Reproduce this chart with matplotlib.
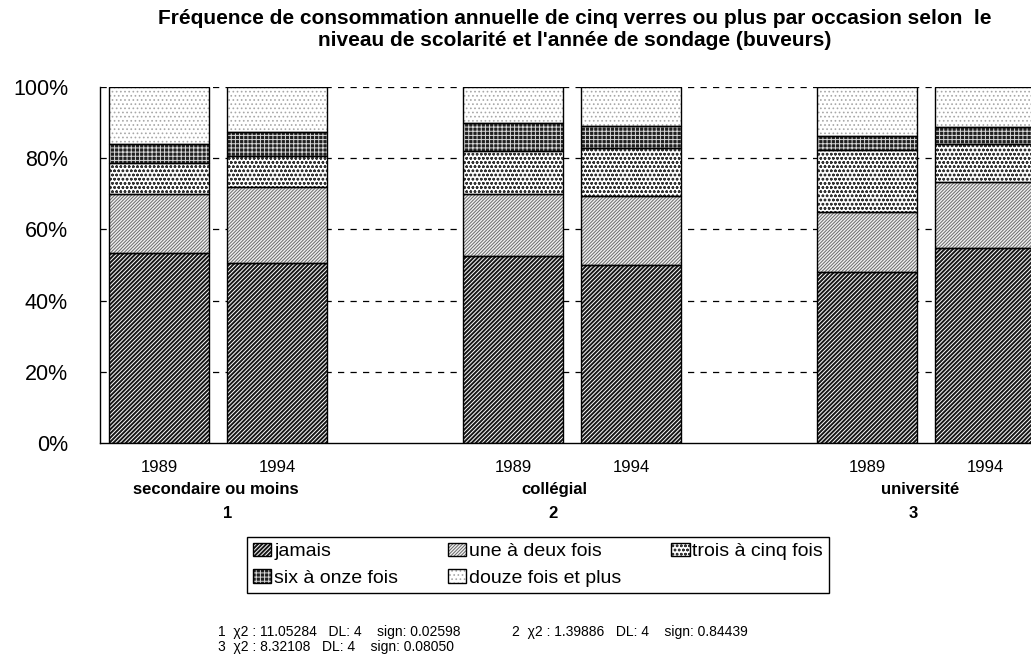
import matplotlib
matplotlib.use('Agg')
import matplotlib.pyplot as plt
from matplotlib.ticker import FuncFormatter
import numpy as np

plt.rcParams['font.family'] = ['Liberation Sans', 'DejaVu Sans']
plt.rcParams['hatch.linewidth'] = 0.7

# Data (percent of drinkers)
years = ['1989', '1994', '1989', '1994', '1989', '1994']
groups = ['secondaire ou moins', 'collégial', 'université']
group_nums = ['1', '2', '3']
categories = ['jamais', 'une à deux fois', 'trois à cinq fois',
              'six à onze fois', 'douze fois et plus']
jamais = [53.3, 50.6, 52.4, 50.0, 47.9, 54.7]
une_deux = [16.6, 21.3, 17.5, 19.3, 17.0, 18.7]
trois_cinq = [8.8, 8.8, 12.0, 13.5, 17.3, 10.6]
six_onze = [5.4, 6.7, 7.9, 6.3, 4.1, 4.8]
douze_plus = [15.9, 12.6, 10.2, 10.9, 13.7, 11.2]
chi_num = ['1', '2', '3']
chi_val = ['11.05284', '1.39886', '8.32108']
chi_dl = ['4', '4', '4']
chi_sign = ['0.02598', '0.84439', '0.08050']

series = [jamais, une_deux, trois_cinq, six_onze, douze_plus]
# facecolor, hatch, hatch colour
styles = [('#161616', '////////', 'white'),
          ('#f0f0f0', '//////////', '#6a6a6a'),
          ('white', 'oooo', '#333333'),
          ('#202020', '++++', '#d8d8d8'),
          ('white', '....', '#a8a8a8')]

W, H = 1031, 658
fig = plt.figure(figsize=(W / 100, H / 100), dpi=100)
ax = fig.add_axes([100 / W, (H - 443) / H, 931 / W, 356 / H])

x = np.array([0, 1, 3, 4, 6, 7])
bw = 100 / 118
bottom = np.zeros(len(x))
handles = []
for vals, (fc, hatch, hc) in zip(series, styles):
    b1 = ax.bar(x, vals, bw, bottom=bottom, color=fc, hatch=hatch,
                edgecolor=hc, linewidth=0, zorder=2)
    b2 = ax.bar(x, vals, bw, bottom=bottom, facecolor='none',
                edgecolor='black', linewidth=1.0, zorder=3)
    handles.append((b1[0], b2[0]))
    bottom += np.array(vals)

ax.set_xlim(-0.5, -0.5 + 931 / 118)
ax.set_ylim(0, 100)
ax.set_yticks([0, 20, 40, 60, 80, 100])
ax.yaxis.set_major_formatter(FuncFormatter(lambda v, p: f'{v:.0f}%'))
ax.tick_params(axis='y', length=0, pad=23, labelsize=15.5)
ax.set_xticks(x)
ax.set_xticklabels(years)
ax.tick_params(axis='x', length=0, pad=12, labelsize=12)
for v in [20, 40, 60, 80, 100]:
    ax.axhline(v, color='black', lw=0.9, ls=(0, (5, 5)), zorder=1)
for s in ['top', 'right']:
    ax.spines[s].set_visible(False)
ax.spines['left'].set_linewidth(1.0)
ax.spines['bottom'].set_linewidth(1.0)

# group labels under the years
label_x = [0.48, 3.35, 6.45]
num_x = [0.58, 3.34, 6.39]
tr = ax.get_xaxis_transform()
for gx, nx, g, n in zip(label_x, num_x, groups, group_nums):
    ax.text(gx, -0.132, g, transform=tr, ha='center', va='center',
            fontsize=12, fontweight='bold')
    ax.text(nx, -0.197, n, transform=tr, ha='center', va='center',
            fontsize=12, fontweight='bold')

fig.text(575 / W, 1 - 9 / H,
         "Fréquence de consommation annuelle de cinq verres ou plus par occasion selon  le\n"
         "niveau de scolarité et l'année de sondage (buveurs)",
         ha='center', va='top', fontsize=15, fontweight='bold', linespacing=1.2)

# legend filled row by row (matplotlib fills columns first)
order = [0, 3, 1, 4, 2]
leg = fig.legend([handles[i] for i in order], [categories[i] for i in order],
                 ncol=3, loc='upper left',
                 bbox_to_anchor=(247 / W, (H - 537) / H), fontsize=14,
                 frameon=True, fancybox=False, edgecolor='black', framealpha=1,
                 handlelength=0.95, handleheight=0.7, handletextpad=0.15,
                 columnspacing=2.55, borderpad=0.3, labelspacing=0.45,
                 borderaxespad=0)
leg.get_frame().set_linewidth(1.0)

# chi-square notes
pos = [(218, 632), (512, 632), (218, 647)]
for (px, py), n, v, d, s in zip(pos, chi_num, chi_val, chi_dl, chi_sign):
    fig.text(px / W, 1 - py / H, f'{n}  χ2 : {v}   DL: {d}    sign: {s}',
             ha='left', va='center', fontsize=10)

fig.savefig('out.png', dpi=100)
